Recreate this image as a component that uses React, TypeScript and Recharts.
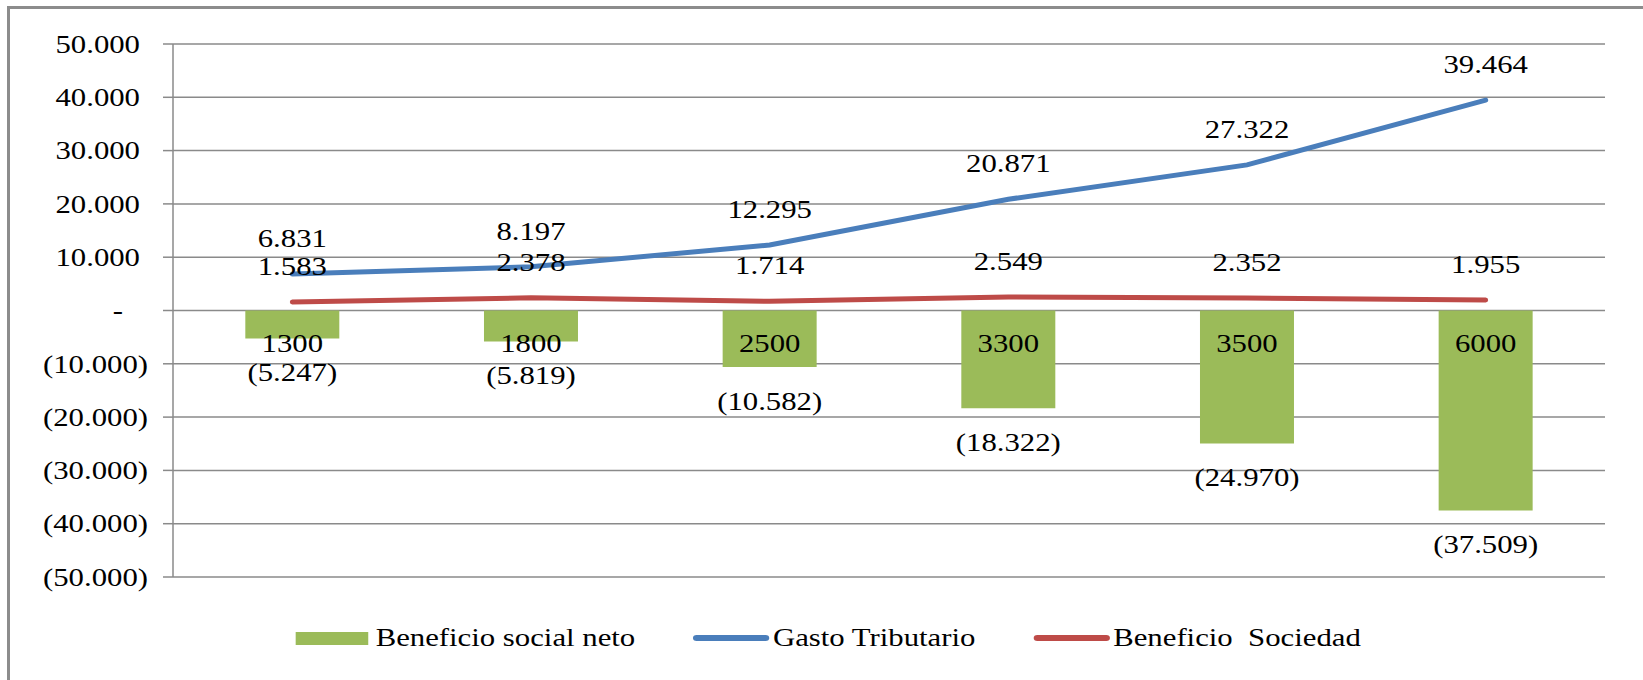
import React from "react";
import {
    ComposedChart,
    Bar,
    Line,
    XAxis,
    YAxis,
    CartesianGrid,
    Legend,
    LabelList,
} from "recharts";

// values
const categories = ["1300", "1800", "2500", "3300", "3500", "6000"];
const beneficioSocialNeto = [-5247, -5819, -10582, -18322, -24970, -37509];
const gastoTributario = [6831, 8197, 12295, 20871, 27322, 39464];
const beneficioSociedad = [1583, 2378, 1714, 2549, 2352, 1955];
const yTicks = [-50000, -40000, -30000, -20000, -10000, 0, 10000, 20000, 30000, 40000, 50000];

const series = [
    { key: "neto", name: "Beneficio social neto", color: "#9BBB59", type: "rect" },
    { key: "gasto", name: "Gasto Tributario", color: "#4A7EBB", type: "line" },
    { key: "sociedad", name: "Beneficio  Sociedad", color: "#BE4B48", type: "line" },
];

const W = 1643;
const H = 680;
const MARGIN = { top: 44, right: 38, bottom: 103, left: 0 };
const Y_AXIS_W = 173;
const PLOT_W = W - Y_AXIS_W - MARGIN.right;
const PLOT_H = H - MARGIN.top - MARGIN.bottom;
const ZERO_Y = MARGIN.top + PLOT_H / 2;
const BAND = PLOT_W / categories.length;

const FONT = '"Liberation Serif", "Times New Roman", serif';
const FONT_SIZE = 25;
const STRETCH = 1.23;
const GRID = "#8a8a8a";
const FRAME = "#8c8c8c";

// the page must not scroll: no scrollbar over the right edge
if (typeof document !== "undefined") {
    document.documentElement.style.overflow = "hidden";
    document.body.style.overflow = "hidden";
}

const chartData = categories.map((c, i) => ({
    cat: c,
    neto: beneficioSocialNeto[i],
    gasto: gastoTributario[i],
    sociedad: beneficioSociedad[i],
}));

const thousands = (n: number) => String(Math.round(Math.abs(n))).replace(/\B(?=(\d{3})+(?!\d))/g, ".");
const fmtValue = (n: number) => (n < 0 ? `(${thousands(n)})` : thousands(n));

function Txt({ x, y, children, anchor = "middle" }: any) {
    return (
        <text
            transform={`translate(${x},${y}) scale(${STRETCH},1)`}
            textAnchor={anchor}
            dy="0.35em"
            fontFamily={FONT}
            fontSize={FONT_SIZE}
            fill="#000"
        >
            {children}
        </text>
    );
}

function YTick({ x, y, payload }: any) {
    const v = payload.value as number;
    if (v === 0) return <Txt x={x - 40} y={y} anchor="end">-</Txt>;
    if (v < 0) return <Txt x={x - 15} y={y} anchor="end">{fmtValue(v)}</Txt>;
    return <Txt x={x - 23} y={y} anchor="end">{fmtValue(v)}</Txt>;
}

// Excel style: tick marks between categories, hanging down from the zero line
function CatTick({ x, index }: any) {
    const left = x - BAND / 2;
    const last = index === categories.length - 1;
    return (
        <g>
            <line x1={left} x2={left} y1={ZERO_Y} y2={ZERO_Y + 8} stroke={GRID} strokeWidth={1.5} />
            {last && <line x1={left + BAND} x2={left + BAND} y1={ZERO_Y} y2={ZERO_Y + 8} stroke={GRID} strokeWidth={1.5} />}
        </g>
    );
}

function LineLabel({ x, y, value }: any) {
    return <Txt x={x} y={y - 36}>{fmtValue(value)}</Txt>;
}

function BarValueLabel({ x, y, width, height, value }: any) {
    const bottom = Math.max(y, y + height);
    return <Txt x={x + width / 2} y={bottom + 34}>{fmtValue(value)}</Txt>;
}

function BarCatLabel({ x, y, width, height, value }: any) {
    const top = Math.min(y, y + height);
    return <Txt x={x + width / 2} y={top + 33}>{value}</Txt>;
}

function LegendContent() {
    return (
        <div
            style={{
                display: "flex",
                justifyContent: "center",
                alignItems: "center",
                paddingLeft: 11,
                transform: `scaleX(${STRETCH})`,
                transformOrigin: "center",
                fontFamily: FONT,
                fontSize: FONT_SIZE,
                color: "#000",
            }}
        >
            {series.map((s, i) => (
                <div key={s.key} style={{ display: "flex", alignItems: "center", marginLeft: i === 0 ? 0 : 47 }}>
                    {s.type === "rect" ? (
                        <span style={{ display: "inline-block", width: 59, height: 13, background: s.color, marginRight: 6 }} />
                    ) : (
                        <span style={{ display: "inline-block", width: 62, height: 6, borderRadius: 3, background: s.color, marginRight: 3 }} />
                    )}
                    <span style={{ whiteSpace: "pre" }}>{s.name}</span>
                </div>
            ))}
        </div>
    );
}

export default function App() {
    return (
        <div style={{ position: "fixed", left: 0, top: 0, width: W, height: H, overflow: "hidden", background: "#fff" }}>
            {/* frame of the picture: only its top and left edges are inside the crop */}
            <div style={{ position: "absolute", left: 7, top: 6, width: W - 7, height: 3, background: FRAME }} />
            <div style={{ position: "absolute", left: 7, top: 6, width: 3, height: H - 6, background: FRAME }} />
            <div style={{ position: "absolute", left: 0, top: 0 }}>
                <ComposedChart width={W} height={H} data={chartData} margin={MARGIN} barCategoryGap="30.3%">
                    <CartesianGrid vertical={false} stroke={GRID} strokeWidth={1.5} />
                    <XAxis
                        dataKey="cat"
                        height={0}
                        axisLine={false}
                        tickLine={false}
                        tick={<CatTick />}
                        interval={0}
                    />
                    <YAxis
                        width={Y_AXIS_W}
                        domain={[-50000, 50000]}
                        ticks={yTicks}
                        interval={0}
                        tickSize={10}
                        tickMargin={0}
                        tickLine={{ stroke: GRID, strokeWidth: 1.5 }}
                        axisLine={{ stroke: GRID, strokeWidth: 1.5 }}
                        tick={<YTick />}
                    />
                    <Legend
                        verticalAlign="middle"
                        align="center"
                        layout="horizontal"
                        wrapperStyle={{ top: 624, left: 0, width: W }}
                        content={<LegendContent />}
                    />
                    <Bar dataKey="neto" name="Beneficio social neto" fill="#9BBB59" isAnimationActive={false}>
                        <LabelList dataKey="neto" content={<BarValueLabel />} />
                        <LabelList dataKey="cat" content={<BarCatLabel />} />
                    </Bar>
                    <Line
                        type="linear"
                        dataKey="gasto"
                        name="Gasto Tributario"
                        stroke="#4A7EBB"
                        strokeWidth={5}
                        strokeLinecap="round"
                        dot={false}
                        activeDot={false}
                        isAnimationActive={false}
                    >
                        <LabelList dataKey="gasto" content={<LineLabel />} />
                    </Line>
                    <Line
                        type="linear"
                        dataKey="sociedad"
                        name="Beneficio  Sociedad"
                        stroke="#BE4B48"
                        strokeWidth={5}
                        strokeLinecap="round"
                        dot={false}
                        activeDot={false}
                        isAnimationActive={false}
                    >
                        <LabelList dataKey="sociedad" content={<LineLabel />} />
                    </Line>
                </ComposedChart>
            </div>
        </div>
    );
}
